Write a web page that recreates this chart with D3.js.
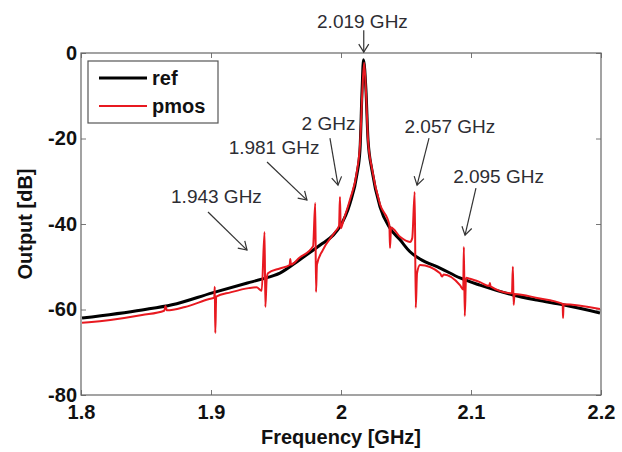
<!DOCTYPE html>
<html>
<head>
<meta charset="utf-8">
<script src="https://cdn.jsdelivr.net/npm/d3@7"></script>
<style>
  body { margin: 0; background: #fff; }
  text { font-family: "Liberation Sans", Arial, sans-serif; }
</style>
</head>
<body>
<div id="chart"></div>
<script>
// values: [frequency GHz, output dB]
var refData = [
  [1.8008, -62.0], [1.847, -60.1], [1.870, -58.9], [1.901, -56.1], [1.928, -53.8],
  [1.939, -52.9], [1.953, -51.5], [1.968, -48.4], [1.984, -44.9], [1.994, -42.6],
  [1.999, -40.7], [2.007, -35.1], [2.0123, -28.3], [2.0146, -22.7], [2.0162, -8.7],
  [2.0173, -1.6], [2.0192, -8.7], [2.0208, -20.4], [2.0238, -27.4], [2.030, -36.0],
  [2.0377, -41.0], [2.0454, -43.7], [2.0531, -46.5], [2.0608, -48.2], [2.0762, -50.3],
  [2.0915, -52.6], [2.1069, -54.3], [2.1323, -56.6], [2.1508, -57.8], [2.1708, -58.9],
  [2.1992, -60.8]
];
var pmosData = [
  [1.8008, -63.1], [1.806, -63.0], [1.847, -61.3], [1.864, -60.3], [1.865, -59.2],
  [1.866, -60.2], [1.880, -59.4], [1.898, -57.6], [1.9025, -57.2], [1.9029, -54.7],
  [1.9033, -65.5], [1.904, -57.0], [1.915, -56.0], [1.929, -55.0], [1.935, -54.8],
  [1.939, -55.6], [1.9412, -41.9], [1.9418, -59.4], [1.9428, -53.0], [1.9438, -51.5],
  [1.953, -50.4], [1.9605, -49.6], [1.961, -48.2], [1.9615, -49.5], [1.968, -47.9],
  [1.9785, -45.2], [1.9802, -35.1], [1.9808, -55.9], [1.9815, -49.5], [1.986, -46.1],
  [1.9955, -41.8], [1.9985, -40.4], [1.9992, -33.7], [1.9998, -41.0], [2.002, -39.0],
  [2.007, -34.2], [2.0123, -27.6], [2.0148, -20.6], [2.0164, -9.0], [2.0178, -2.3],
  [2.0192, -9.0], [2.0208, -20.4], [2.0238, -27.0], [2.030, -35.4], [2.0372, -40.2],
  [2.0377, -45.6], [2.0385, -40.8], [2.0454, -43.0], [2.0531, -44.2], [2.0548, -43.3],
  [2.0567, -32.5], [2.0575, -59.6], [2.0585, -51.5], [2.0608, -49.6], [2.0762, -51.5],
  [2.0777, -52.3], [2.079, -51.8], [2.0915, -54.3], [2.094, -55.3], [2.0945, -45.4],
  [2.0952, -61.5], [2.0962, -52.6], [2.0992, -52.8], [2.1069, -53.6], [2.114, -54.5],
  [2.1146, -53.8], [2.115, -54.6], [2.1315, -56.2], [2.1322, -50.0], [2.1328, -58.9],
  [2.1335, -56.4], [2.1508, -57.3], [2.1705, -58.7], [2.1708, -62.0], [2.1712, -58.8],
  [2.1992, -59.9]
];
var seriesNames = ["ref", "pmos"];
var xTicks = [1.8, 1.9, 2, 2.1, 2.2];
var yTicks = [0, -20, -40, -60, -80];
// label text, label anchor [f, dB], arrow from [f, dB] to [f, dB]
var notes = [
  { text: "2.019 GHz", at: [2.0165, 5.85], from: [2.0175, 5.3], to: [2.0175, 0.2] },
  { text: "2 GHz", at: [1.9904, -18.0], from: [1.9915, -19.9], to: [1.9977, -30.9] },
  { text: "1.981 GHz", at: [1.9485, -23.6], from: [1.9431, -25.5], to: [1.9738, -34.4] },
  { text: "1.943 GHz", at: [1.9042, -35.1], from: [1.8977, -37.2], to: [1.9277, -46.1] },
  { text: "2.057 GHz", at: [2.0838, -18.7], from: [2.0677, -19.9], to: [2.0585, -30.9] },
  { text: "2.095 GHz", at: [2.1212, -30.4], from: [2.1038, -31.6], to: [2.0954, -42.6] }
];

var W = 622, H = 452;
var margin = { top: 53, right: 21, bottom: 57, left: 81 };
var width = W - margin.left - margin.right;
var height = H - margin.top - margin.bottom;

var svg = d3.select('#chart').append('svg')
  .attr('width', W).attr('height', H);

var x = d3.scaleLinear().domain([1.8, 2.2]).range([0, width]);
var y = d3.scaleLinear().domain([-80, 0]).range([height, 0]);

var g = svg.append('g')
  .attr('transform', 'translate(' + margin.left + ',' + margin.top + ')');

svg.append('defs').append('marker')
  .attr('id', 'arr')
  .attr('viewBox', '-1 -6 11 12')
  .attr('refX', 8).attr('refY', 0)
  .attr('markerWidth', 11).attr('markerHeight', 12)
  .attr('markerUnits', 'userSpaceOnUse')
  .attr('orient', 'auto')
  .append('path')
  .attr('d', 'M0,-5L8,0L0,5')
  .attr('fill', 'none').attr('stroke', '#333').attr('stroke-width', 1.2);

// axes, MATLAB style inward ticks on all sides
var plain = function(d) { return String(d); };
var xAxis = d3.axisBottom(x).tickValues(xTicks).tickSizeInner(-5).tickSizeOuter(0)
  .tickPadding(10).tickFormat(plain);
var yAxis = d3.axisLeft(y).tickValues(yTicks).tickSizeInner(-5).tickSizeOuter(0)
  .tickPadding(4).tickFormat(plain);

var ax = g.append('g').attr('transform', 'translate(0,' + height + ')').call(xAxis);
var ay = g.append('g').call(yAxis);
g.append('g').call(d3.axisTop(x).tickValues(xTicks).tickSizeInner(-5).tickSizeOuter(0).tickFormat(''));
g.append('g').attr('transform', 'translate(' + width + ',0)')
  .call(d3.axisRight(y).tickValues(yTicks).tickSizeInner(-5).tickSizeOuter(0).tickFormat(''));

g.selectAll('.domain').remove();
g.selectAll('.tick line').attr('stroke', '#777');
[ax, ay].forEach(function(a) {
  a.selectAll('text')
    .attr('fill', '#111')
    .style('font-size', '20px')
    .style('font-weight', 'bold');
});

g.append('rect')
  .attr('width', width).attr('height', height)
  .attr('fill', 'none').attr('stroke', '#666').attr('stroke-width', 1.2);

// curves
var line = d3.line()
  .curve(d3.curveMonotoneX)
  .x(function(d){ return x(d[0]); })
  .y(function(d){ return y(d[1]); });

g.append('path').datum(refData)
  .attr('d', line).attr('fill', 'none')
  .attr('stroke', '#000').attr('stroke-width', 3).attr('stroke-linejoin', 'round');
g.append('path').datum(pmosData)
  .attr('d', line).attr('fill', 'none')
  .attr('stroke', '#e81920').attr('stroke-width', 2).attr('stroke-linejoin', 'round');

// annotations
notes.forEach(function(n) {
  g.append('text')
    .attr('x', x(n.at[0])).attr('y', y(n.at[1]))
    .attr('text-anchor', 'middle')
    .attr('fill', '#2d2d33')
    .style('font-size', '19px')
    .text(n.text);
  g.append('line')
    .attr('x1', x(n.from[0])).attr('y1', y(n.from[1]))
    .attr('x2', x(n.to[0])).attr('y2', y(n.to[1]))
    .attr('stroke', '#333').attr('stroke-width', 1.2)
    .attr('marker-end', 'url(#arr)');
});

// legend
var leg = svg.append('g').attr('transform', 'translate(88,61)');
leg.append('rect').attr('width', 130).attr('height', 62)
  .attr('fill', '#fff').attr('stroke', '#555').attr('stroke-width', 1.2);
var legColors = ['#000', '#e81920'];
seriesNames.forEach(function(s, i) {
  var ly = 17 + i * 28;
  leg.append('line').attr('x1', 11).attr('x2', 59).attr('y1', ly).attr('y2', ly)
    .attr('stroke', legColors[i]).attr('stroke-width', i ? 2 : 3);
  leg.append('text').attr('x', 64).attr('y', ly + 7)
    .attr('fill', '#111')
    .style('font-size', '20px').style('font-weight', 'bold')
    .text(s);
});

// axis titles
svg.append('text')
  .attr('x', margin.left + width / 2).attr('y', 444)
  .attr('text-anchor', 'middle')
  .attr('fill', '#111')
  .style('font-size', '20px').style('font-weight', 'bold')
  .text('Frequency [GHz]');
svg.append('text')
  .attr('transform', 'translate(32,' + (margin.top + height / 2) + ') rotate(-90)')
  .attr('text-anchor', 'middle')
  .attr('fill', '#111')
  .style('font-size', '20px').style('font-weight', 'bold')
  .text('Output [dB]');
</script>
</body>
</html>
